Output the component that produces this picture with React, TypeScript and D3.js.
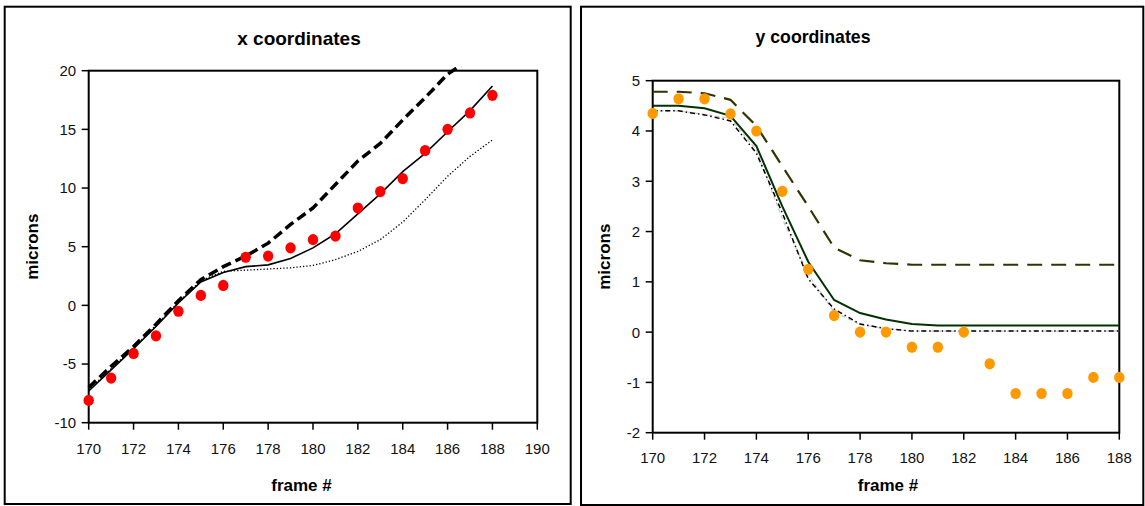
import * as d3 from 'd3'

// frame numbers
const FRAMES = [170, 171, 172, 173, 174, 175, 176, 177, 178, 179, 180, 181, 182, 183, 184, 185, 186, 187, 188]

// x coordinates (microns)
const X_MEASURED = [-8.1, -6.2, -4.1, -2.6, -0.5, 0.85, 1.7, 4.1, 4.2, 4.9, 5.6, 5.9, 8.3, 9.7, 10.8, 13.2, 15.0, 16.4, 17.9]
const X_SOLID = [-7.3, -5.5, -3.7, -1.8, 0.2, 2.0, 2.8, 3.3, 3.45, 4.0, 4.9, 6.1, 7.8, 9.5, 11.4, 12.95, 14.8, 16.6, 18.7]
const X_DASHED = [-7.0, -5.2, -3.5, -1.6, 0.4, 2.2, 3.3, 4.2, 5.3, 6.9, 8.3, 10.3, 12.3, 13.8, 15.8, 17.7, 19.7, 21.0]
const X_DOTTED = [-7.2, -5.4, -3.6, -1.7, 0.3, 2.1, 2.9, 3.0, 3.1, 3.2, 3.4, 3.9, 4.6, 5.6, 7.1, 9.0, 11.0, 12.7, 14.1]

// y coordinates (microns)
const Y_MEASURED = [4.35, 4.64, 4.64, 4.34, 4.0, 2.8, 1.25, 0.33, 0.0, 0.0, -0.3, -0.3, 0.0, -0.63, -1.22, -1.22, -1.22, -0.9, -0.9]
const Y_SOLID = [4.5, 4.5, 4.45, 4.3, 3.7, 2.5, 1.4, 0.64, 0.38, 0.25, 0.16, 0.13, 0.13, 0.13, 0.13, 0.13, 0.13, 0.13, 0.13]
const Y_DASHED = [4.78, 4.78, 4.75, 4.62, 4.1, 3.3, 2.5, 1.68, 1.43, 1.37, 1.34, 1.34, 1.34, 1.34, 1.34, 1.34, 1.34, 1.34, 1.34]
const Y_DASHDOT = [4.4, 4.4, 4.32, 4.2, 3.56, 2.37, 1.06, 0.46, 0.16, 0.07, 0.02, 0.02, 0.02, 0.02, 0.02, 0.02, 0.02, 0.02, 0.02]
const Y_GRAY = [4.4, 4.4, 4.33, 4.25, 3.62, 2.25, 1.15, 0.4, 0.15, 0.07, 0.02, 0.02, 0.02, 0.02, 0.02, 0.02, 0.02, 0.02, 0.02]

// axis ticks
const X_TICKS_LEFT = [170, 172, 174, 176, 178, 180, 182, 184, 186, 188, 190]
const X_TICKS_RIGHT = [170, 172, 174, 176, 178, 180, 182, 184, 186, 188]
const Y_TICKS_LEFT = [-10, -5, 0, 5, 10, 15, 20]
const Y_TICKS_RIGHT = [-2, -1, 0, 1, 2, 3, 4, 5]

const FONT = 'Liberation Sans, Arial, Helvetica, sans-serif'

type Line = { values: number[]; stroke: string; width: number; dash?: string; clip?: boolean }

type PanelProps = {
  id: string
  box: [number, number, number, number]
  plot: { l: number; t: number; r: number; b: number }
  xDomain: [number, number]
  yDomain: [number, number]
  xTicks: number[]
  yTicks: number[]
  title: string
  titleX: number
  titleY: number
  titleSize: number
  yLabelX: number
  xLabelX: number
  tickLabelY: number
  lines: Line[]
  dots: number[]
  dotColor: string
}

function Panel(p: PanelProps) {
  const x = d3.scaleLinear().domain(p.xDomain).range([p.plot.l, p.plot.r])
  const y = d3.scaleLinear().domain(p.yDomain).range([p.plot.b, p.plot.t])
  const [bx0, by0, bx1, by1] = p.box
  const cy = (p.plot.t + p.plot.b) / 2

  return (
    <g>
      <defs>
        <clipPath id={`clip-${p.id}`}>
          <rect x={p.plot.l - 10} y={p.plot.t - 4} width={p.plot.r - p.plot.l + 20} height={p.plot.b - p.plot.t + 14} />
        </clipPath>
      </defs>
      <rect x={bx0} y={by0} width={bx1 - bx0} height={by1 - by0} fill="#fff" stroke="#000" strokeWidth={2} />
      <text x={p.titleX} y={p.titleY} textAnchor="middle" fontFamily={FONT} fontWeight="bold" fontSize={p.titleSize}>
        {p.title}
      </text>

      {/* plot area */}
      <rect x={p.plot.l} y={p.plot.t} width={p.plot.r - p.plot.l} height={p.plot.b - p.plot.t} fill="none" stroke="#000" strokeWidth={2} />

      {p.xTicks.map(t => (
        <g key={'x' + t}>
          <line x1={x(t)} x2={x(t)} y1={p.plot.b} y2={p.plot.b + 7} stroke="#000" strokeWidth={1.5} />
          <text x={x(t)} y={p.tickLabelY} textAnchor="middle" fontFamily={FONT} fontSize={15} fill="#111">{t}</text>
        </g>
      ))}
      {p.yTicks.map(t => (
        <g key={'y' + t}>
          <line x1={p.plot.l - 7} x2={p.plot.l} y1={y(t)} y2={y(t)} stroke="#000" strokeWidth={1.5} />
          <text x={p.plot.l - 12.5} y={y(t)} dy="0.36em" textAnchor="end" fontFamily={FONT} fontSize={15} fill="#111">{t}</text>
        </g>
      ))}

      <text x={p.xLabelX} y={490.5} textAnchor="middle" fontFamily={FONT} fontWeight="bold" fontSize={17}>frame #</text>
      <text transform={`translate(${p.yLabelX},${cy}) rotate(-90)`} textAnchor="middle" fontFamily={FONT} fontWeight="bold" fontSize={17}>microns</text>

      {p.lines.map((s, i) => {
        const gen = d3.line<number>().x((_, j) => x(FRAMES[j])).y(v => y(v))
        return (
          <path
            key={i}
            d={gen(s.values) || ''}
            fill="none"
            stroke={s.stroke}
            strokeWidth={s.width}
            strokeDasharray={s.dash}
            clipPath={s.clip ? `url(#clip-${p.id})` : undefined}
          />
        )
      })}

      {p.dots.map((v, j) => (
        <ellipse key={j} cx={x(FRAMES[j])} cy={y(v)} rx={5.2} ry={5.6} fill={p.dotColor} />
      ))}
    </g>
  )
}

export default function App() {
  return (
    <svg width={1145} height={506} style={{ position: 'absolute', left: 0, top: 0, background: '#fff' }}>
      <Panel
        id="left"
        box={[4.7, 6.7, 570.7, 504]}
        plot={{ l: 88.7, t: 70.7, r: 537.3, b: 422.7 }}
        xDomain={[170, 190]}
        yDomain={[-10, 20]}
        xTicks={X_TICKS_LEFT}
        yTicks={Y_TICKS_LEFT}
        title="x coordinates"
        titleX={299}
        titleY={45}
        titleSize={19}
        yLabelX={38}
        xLabelX={301.5}
        tickLabelY={454}
        lines={[
          { values: X_DOTTED, stroke: '#000', width: 1.3, dash: '1.3,2' },
          { values: X_SOLID, stroke: '#000', width: 1.6 },
          { values: X_DASHED, stroke: '#000', width: 3.5, dash: '10,5', clip: true },
        ]}
        dots={X_MEASURED}
        dotColor="#ff0000"
      />
      <Panel
        id="right"
        box={[581, 6.7, 1143.3, 505]}
        plot={{ l: 652.7, t: 80.7, r: 1119.3, b: 432.7 }}
        xDomain={[170, 188]}
        yDomain={[-2, 5]}
        xTicks={X_TICKS_RIGHT}
        yTicks={Y_TICKS_RIGHT}
        title="y coordinates"
        titleX={813}
        titleY={43}
        titleSize={17.7}
        yLabelX={610}
        xLabelX={888}
        tickLabelY={463}
        lines={[
          { values: Y_GRAY, stroke: '#c8c8c8', width: 1.2, dash: '4,3' },
          { values: Y_DASHDOT, stroke: '#000', width: 1.5, dash: '5,3,1.5,3' },
          { values: Y_DASHED, stroke: '#333300', width: 2.2, dash: '15,9' },
          { values: Y_SOLID, stroke: '#003300', width: 2 },
        ]}
        dots={Y_MEASURED}
        dotColor="#ff9900"
      />
    </svg>
  )
}
